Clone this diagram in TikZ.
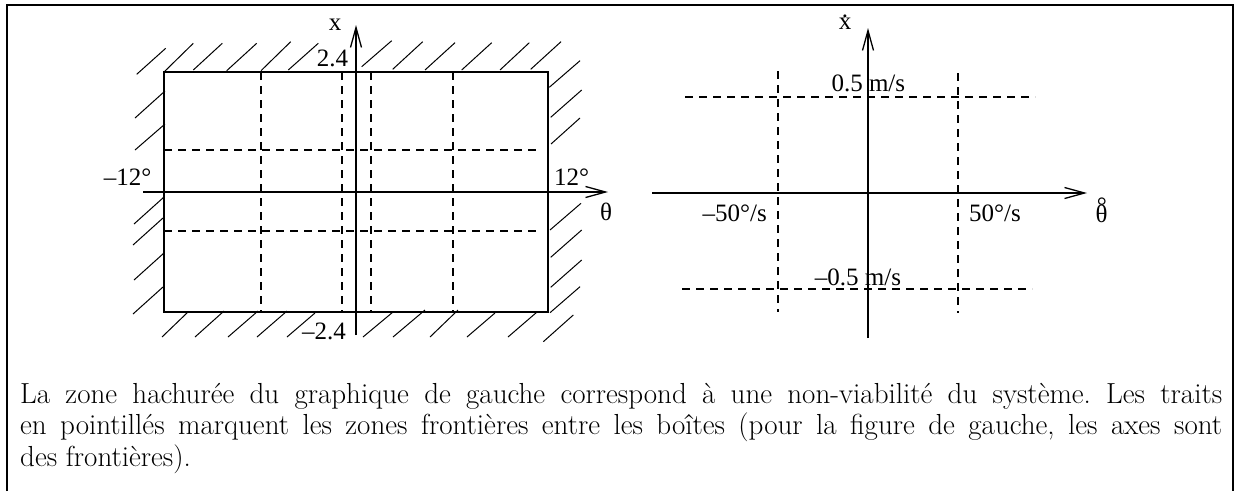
\documentclass[tikz,border=0pt]{standalone}
\usepackage{fontspec}
\newfontfamily\tms{Liberation Serif}
\usetikzlibrary{arrows.meta}
\newcommand\xdotlbl{\tms\rlap{\hspace{0.125em}\raisebox{0.45em}{.}}x}
\newcommand\thetaring{\tms\rlap{\makebox[0.5em]{\raisebox{0.3em}{°}}}θ}
\begin{document}
\begin{tikzpicture}[x=1pt,y=-1pt,
  frame/.style={line width=2pt},
  axis/.style={line width=2pt,-{Straight Barb[length=20pt,width=11pt,line width=1.3pt]}},
  box/.style={line width=2pt},
  grid/.style={line width=2pt,dash pattern=on 8pt off 6pt},
  hatch/.style={line width=1pt},
  lbl/.style={font=\tms\fontsize{25}{30}\selectfont, inner sep=0pt},
  ]
\useasboundingbox (0,0) rectangle (1236,491);
% frame (open at the bottom)
\coordinate (fbl) at (7,491);
\coordinate (ftl) at (7,5);
\coordinate (ftr) at (1233,5);
\coordinate (fbr) at (1233,491);
\draw[frame] (fbl) -- (ftl) -- (ftr) -- (fbr);

% ---------- left diagram ----------
\coordinate (Ltl) at (164,72);
\coordinate (Lbr) at (548,312);
\draw[box] (Ltl) rectangle (Lbr);
% hatching
\foreach \ax/\ay/\bx/\by in {
  136.7/74.3/165.7/48.3, 164.3/71.7/193.3/43.3, 193.3/70/222.3/43.3,
  226.7/70.7/256.7/43.3, 261/70.7/290.7/41.7, 288.3/70/318.3/43.3,
  361.7/66.7/391.7/40.7, 392.7/69.3/422.7/41.7, 425/70/455/42.7,
  461.7/70/491.7/42.7, 500/70/529.3/42.7, 530.7/69.3/561/41.7,
  549.3/87.3/580/60.7, 550.7/117.3/581.7/90, 551/144/580/118,
  550/230/581/203.3, 550.7/257.3/581.7/230, 550.7/287.3/581.7/260,
  550/312.7/580/286.7, 543.3/341.7/573.3/315,
  135/118/165/91, 135/150/165/124, 134/224/164/197,
  133/245/163/218, 134/280/164/253, 133/314/163/287,
  162/337/188/312, 195/337/224/311, 228/337/258/311, 257/337/287/311,
  287/337/315/313, 363/337/393/312, 393/337/425/310, 430/337/458/310,
  467/337/495/313, 508/337/537/312} {
  \draw[hatch] (\ax,\ay) -- (\bx,\by);
}
% dashed borders
\foreach \yy in {150,231} {
  \draw[grid] (164,\yy) -- (540,\yy);
}
\foreach \xx in {261,342,371,453} {
  \draw[grid] (\xx,72) -- (\xx,312);
}
% axes
\coordinate (Lh0) at (143,192);
\coordinate (Lh1) at (608,192);
\coordinate (Lv0) at (356,335);
\coordinate (Lv1) at (356,25);
\draw[axis] (Lh0) -- (Lh1);
\draw[axis] (Lv0) -- (Lv1);
% labels
\node[lbl,anchor=base] (lx) at (335,30) {x};
\node[lbl] (lp24) at (332.5,58.5) {2.4};
\node[lbl] (lm24) at (324,331) {–2.4};
\node[lbl] (lm12) at (127.5,177) {–12°};
\node[lbl] (lp12) at (571.7,177) {12°};
\node[lbl] (lth) at (606,212) {θ};

% ---------- right diagram ----------
\foreach \yy/\xa/\xb in {97/685/1035, 289/682/1032} {
  \draw[grid] (\xa,\yy) -- (\xb,\yy);
}
\draw[grid] (778,71) -- (778,312);
\draw[grid] (958,73) -- (958,313);
\coordinate (Rh0) at (652,193);
\coordinate (Rh1) at (1087,193);
\coordinate (Rv0) at (868,338);
\coordinate (Rv1) at (868,28);
\draw[axis] (Rh0) -- (Rh1);
\draw[axis] (Rv0) -- (Rv1);
\node[lbl,anchor=base] (rx) at (845,29) {\xdotlbl};
\node[lbl] (rp05) at (868.3,83.5) {0.5 m/s};
\node[lbl] (rm05) at (858,277.5) {–0.5 m/s};
\node[lbl] (rm50) at (734.7,213) {–50°/s};
\node[lbl] (rp50) at (995,213) {50°/s};
\node[lbl,anchor=base] (rth) at (1101.5,222) {\thetaring};

% ---------- caption ----------
\node[anchor=base west, text width=1202pt, align=justify, inner sep=0pt,
      font=\fontsize{29}{31.8}\selectfont\frenchspacing] (cap) at (20,403)
  {La zone hachurée du graphique de gauche correspond à une non-viabilité du système. Les traits\linebreak
   en pointillés marquent les zones frontières entre les boîtes (pour la figure de gauche, les axes sont\linebreak
   des frontières).};
\end{tikzpicture}
\end{document}
